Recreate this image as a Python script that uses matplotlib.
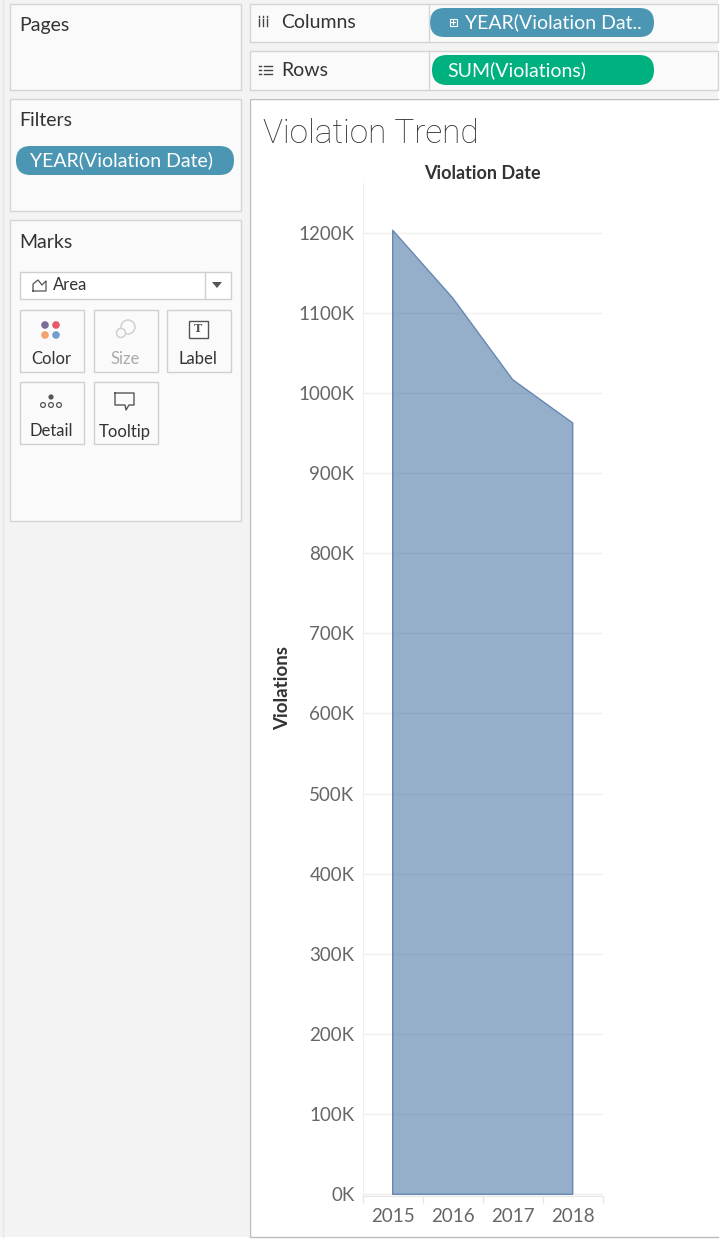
import matplotlib
matplotlib.use("Agg")
import matplotlib.pyplot as plt
from matplotlib.patches import Rectangle, FancyBboxPatch, Circle, Polygon

plt.rcParams['font.family'] = ['Lato', 'DejaVu Sans']

# data
years = ['2015', '2016', '2017', '2018']
violations = [1203000, 1118500, 1016500, 962500]
y_ticks = list(range(0, 1200001, 100000))
y_tick_labels = [f'{v // 1000}K' for v in y_ticks]

W, H = 728, 1247
fig = plt.figure(figsize=(W / 100, H / 100), dpi=100)
fig.patch.set_facecolor('white')

# overlay for the Tableau UI, 1 unit = 1 pixel
ui = fig.add_axes([0, 0, 1, 1])
ui.set_xlim(0, W)
ui.set_ylim(H, 0)
ui.axis('off')

GRAY_BG = '#f3f3f3'
CARD = '#fafafa'
BORDER = '#d4d4d4'
TXT = '#333333'
PILL_BLUE = '#4b96b3'
PILL_GREEN = '#00b180'

# sidebar background
ui.add_patch(Rectangle((0, 0), 249, 1237, fc=GRAY_BG, ec='none'))
ui.add_patch(Rectangle((249, 0), 469, 98, fc=GRAY_BG, ec='none'))
ui.plot([2.5, 2.5], [0, 1237], color='#e6e6e6', lw=1)


def box(x0, y0, x1, y1, fc=CARD, ec=BORDER, lw=1):
    ui.add_patch(Rectangle((x0, y0), x1 - x0, y1 - y0, fc=fc, ec=ec, lw=lw))


def pill(x0, y0, x1, y1, color):
    h = y1 - y0
    ui.add_patch(FancyBboxPatch((x0, y0), x1 - x0, h,
                                boxstyle=f'round,pad=0,rounding_size={h / 2}',
                                fc=color, ec='none'))


# Pages / Filters / Marks cards
box(9.5, 3.5, 240.5, 89.5)
box(9.5, 98.5, 240.5, 210.5)
box(9.5, 219.5, 240.5, 520.5)
ui.text(19, 25, 'Pages', fontsize=14, color=TXT, va='center')
ui.text(19, 121, 'Filters', fontsize=14, color=TXT, va='center')
ui.text(19, 242, 'Marks', fontsize=14, color=TXT, va='center')

pill(16, 146, 234, 175, PILL_BLUE)
ui.text(122, 160.5, 'YEAR(Violation Date)', fontsize=14, color='white',
        ha='center', va='center')

# mark type dropdown
box(19.5, 271.5, 230.5, 298.5, fc='white', ec='#cfcfcf')
ui.plot([204.5, 204.5], [272, 298], color='#cfcfcf', lw=1)
ui.add_patch(Polygon([[212, 282], [222, 282], [217, 288]], closed=True,
                     fc='#555555', ec='none'))
ui.plot([33, 33, 38, 42, 46, 46, 33], [291, 284, 280, 285, 281, 291, 291],
        color='#555555', lw=0.9)
ui.text(53, 285.5, 'Area', fontsize=12, color=TXT, va='center')

# mark property buttons
buttons = [(19.5, 309.5, 'Color', TXT), (93.5, 309.5, 'Size', '#aaaaaa'),
           (166.5, 309.5, 'Label', TXT), (19.5, 381.5, 'Detail', TXT),
           (93.5, 381.5, 'Tooltip', TXT)]
for bx, by, name, c in buttons:
    box(bx, by, bx + 64, by + 62, fc=CARD, ec='#d0d0d0')
    ui.text(bx + 31.5, by + 50, name, fontsize=12, color=c, ha='center', va='center')

# color icon
for (cx, cy), c in zip([(45, 325), (56, 325), (45, 335), (56, 335)],
                       ['#7c6a99', '#e9596a', '#f1a26f', '#6f9fcf']):
    ui.add_patch(Circle((cx, cy), 3.8, fc=c, ec='none'))
# size icon
ui.add_patch(Circle((128, 327), 7, fc='none', ec='#cccccc', lw=1))
ui.add_patch(Circle((121, 333), 4.5, fc=CARD, ec='#cccccc', lw=1))
# label icon
box(188.5, 320.5, 207.5, 337.5, fc='white', ec='#555555', lw=1)
ui.text(198, 329, 'T', fontsize=8, color='#555555', ha='center', va='center',
        family='DejaVu Serif', fontweight='bold')
# detail icon
ui.add_patch(Circle((51, 397), 2.6, fc='#555555', ec='none'))
for cx in (43, 51, 59):
    ui.add_patch(Circle((cx, 405), 2.4, fc='none', ec='#555555', lw=0.9))
# tooltip icon
ui.plot([115, 134, 134, 129, 126, 125, 115, 115],
        [393, 393, 405, 405, 410, 405, 405, 393], color='#555555', lw=1)

# Columns / Rows shelves
box(249.5, 3.5, 718, 41.5)
box(249.5, 50.5, 718, 89.5)
ui.plot([428.5, 428.5], [4, 41], color=BORDER, lw=1)
ui.plot([428.5, 428.5], [51, 89], color=BORDER, lw=1)
for xx in (259, 263, 267):
    ui.plot([xx, xx], [19, 26], color='#444444', lw=1)
    ui.plot([xx, xx], [16, 17], color='#444444', lw=1)
ui.text(281, 22.5, 'Columns', fontsize=14, color=TXT, va='center')
for yy in (66, 70, 74):
    ui.plot([264, 272], [yy, yy], color='#444444', lw=1)
    ui.plot([259, 261], [yy, yy], color='#444444', lw=1)
ui.text(281, 71, 'Rows', fontsize=14, color=TXT, va='center')

pill(430, 8, 654, 37, PILL_BLUE)
ui.add_patch(Rectangle((449.5, 18.5), 7, 7, fc='none', ec='white', lw=0.8))
ui.plot([451, 455], [22, 22], color='white', lw=0.8)
ui.plot([453, 453], [20, 24], color='white', lw=0.8)
ui.text(465, 22.5, 'YEAR(Violation Dat..', fontsize=14, color='white', va='center')
pill(432, 55, 654, 85, PILL_GREEN)
ui.text(447, 70.5, 'SUM(Violations)', fontsize=14, color='white', va='center')

# worksheet panel
ui.add_patch(Rectangle((249.5, 98.5), 468.5, 1138, fc='white', ec='none'))
ui.plot([718, 249.5, 249.5, 718], [98.5, 98.5, 1236.5, 1236.5],
        color='#bdbdbd', lw=1)
ui.text(263, 134, 'Violation Trend', fontsize=24, color='#333333', va='center',
        family=['Roboto', 'Lato'], fontweight='light')
ui.text(482.5, 173.5, 'Violation Date', fontsize=13, color=TXT, ha='center',
        va='center', fontweight='bold')
ui.text(283, 688, 'Violations', fontsize=13.5, color=TXT, ha='center',
        va='center', rotation=90, fontweight='bold')

# chart area
left, right, top, bottom = 362.7, 602.7, 183, 1195.5
ax = fig.add_axes([left / W, 1 - bottom / H, (right - left) / W, (bottom - top) / H])
ax.set_facecolor('none')
idx = list(range(len(years)))
xs = [idx[0]] + idx + [idx[-1]]
ys = [0] + violations + [0]
ax.fill(xs, ys, fc='#4e79a7', alpha=0.6, ec='none', zorder=3)
ax.plot(xs + [xs[0]], ys + [ys[0]], color='#6688b3', lw=1, zorder=4)
ax.set_xlim(-0.5, len(years) - 0.5)
ax.set_ylim(-1500, 1262000)
ax.set_yticks(y_ticks)
ax.set_yticklabels(y_tick_labels)
ax.set_xticks(idx)
ax.set_xticklabels(years)
ax.set_xticks([i - 0.5 for i in range(len(years) + 1)], minor=True)
ax.tick_params(axis='y', length=0, pad=6, labelsize=13.5, labelcolor='#666666')
ax.tick_params(axis='x', which='major', length=0, pad=9, labelsize=13.5,
               labelcolor='#666666')
ax.tick_params(axis='x', which='minor', length=5, color='#e6e6e6', width=1)
ax.grid(axis='y', color='#efefef', lw=1, zorder=0)
for side in ('top', 'right'):
    ax.spines[side].set_visible(False)
ax.spines['left'].set_color('#efefef')
ax.spines['bottom'].set_color('#e6e6e6')

fig.savefig('out.png', dpi=100, facecolor='white')
